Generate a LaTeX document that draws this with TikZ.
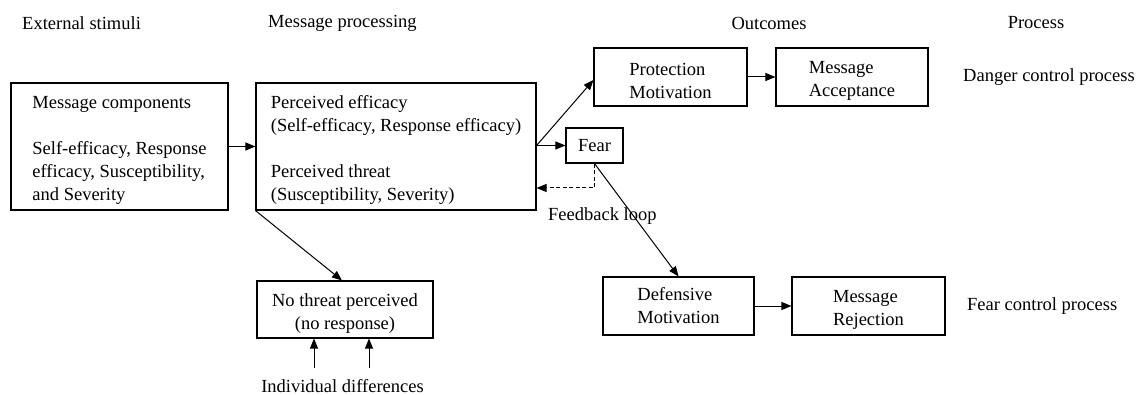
\documentclass[tikz,border=0pt]{standalone}
\usepackage{fontspec}
\setmainfont{Liberation Serif}
\newfontfamily\tnr{Liberation Serif}
\usetikzlibrary{arrows.meta}
% a strut that lowers the first line of a box text a little
\newcommand{\toppad}{\rule{0pt}{20.5pt}}
\begin{document}
\begin{tikzpicture}[x=1pt,y=-1pt,
  every node/.style={font=\tnr\fontsize{18.5}{23}\selectfont},
  box/.style={draw,line width=1.1pt,align=left,inner sep=0pt},
  lbl/.style={inner sep=0pt},
  arr/.style={line width=1pt,-{Triangle[length=10pt,width=8pt]}},
  fb/.style={arr,dash pattern=on 4pt off 2.5pt},
]
\useasboundingbox (0,0) rectangle (1140,395);

% column headings
\node[lbl,anchor=west] (h1) at (22,23) {External stimuli};
\node[lbl,anchor=west] (h2) at (268,23) {Message processing};
\node[lbl] (h3) at (769,23) {Outcomes};
\node[lbl] (h4) at (1036,23) {Process};

% boxes
\node[box,minimum width=217pt,minimum height=127pt] (mc) at (119.5,146.5)
  {\toppad Message components\\[23pt]Self-efficacy, Response\\efficacy, Susceptibility,\\and Severity};
\node[box,minimum width=280pt,minimum height=127pt] (pe) at (396,146.5)
  {\toppad Perceived efficacy\\(Self-efficacy, Response efficacy)\\[23pt]Perceived threat\\(Susceptibility, Severity)};
\node[box,minimum width=153pt,minimum height=58pt] (pm) at (670.5,77) {\toppad Protection\\Motivation};
\node[box,minimum width=152pt,minimum height=58pt] (ma) at (852,77) {\toppad Message\\Acceptance};
\node[box,minimum width=57pt,minimum height=35pt] (fear) at (594.5,145.5) {Fear};
\node[box,minimum width=151pt,minimum height=58pt] (dm) at (678.5,306) {Defensive\\Motivation};
\node[box,minimum width=153pt,minimum height=58pt] (mr) at (868.5,306) {\toppad Message\\Rejection};
\node[box,align=center,minimum width=176pt,minimum height=57pt] (nt) at (345,309.5) {\toppad No threat perceived\\(no response)};

% side labels
\node[lbl,anchor=west] (dcp) at (963,77) {Danger control process};
\node[lbl,anchor=west] (fcp) at (967,306) {Fear control process};
\node[lbl,anchor=west] (fbl) at (548,216) {Feedback loop};
\node[lbl] (ind) at (342.5,386) {Individual differences};

% connectors
\draw[arr] (mc.east) -- (pe.west);
\draw[arr] (fear.west -| pe.east) -- (fear.west);
\draw[arr] (fear.west -| pe.east) -- ([yshift=-3pt]pm.west);
\draw[arr] (pm.east) -- (ma.west);
\draw[arr] (dm.east) -- (mr.west);
\draw[arr] (pe.south west) -- ([xshift=-3pt]nt.north);
\draw[arr] (fear.south) -- (dm.north);
\draw[fb] (fear.south) |- ([yshift=-41.5pt]pe.east);

\coordinate (i1) at (314,368);
\coordinate (i2) at (369,368);
\draw[arr] (i1) -- (i1 |- nt.south);
\draw[arr] (i2) -- (i2 |- nt.south);
\end{tikzpicture}
\end{document}
